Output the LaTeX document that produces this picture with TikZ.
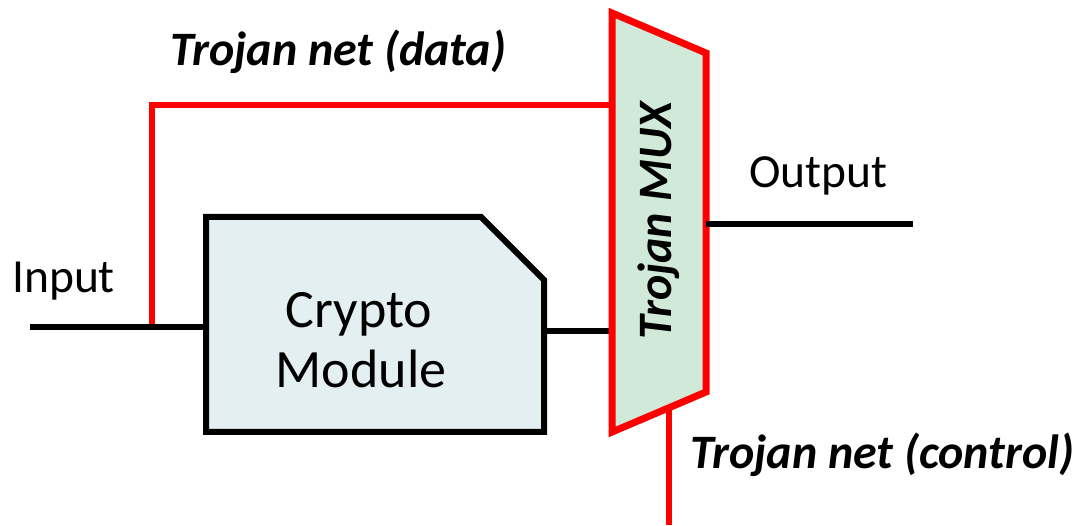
\documentclass[tikz,border=0pt]{standalone}
\usepackage{fontspec}
\setmainfont{Carlito}
\definecolor{boxfill}{HTML}{E4EFF1}
\definecolor{muxfill}{HTML}{D0E9D8}
\definecolor{trojred}{HTML}{FF0000}
\begin{document}
\begin{tikzpicture}[x=1pt,y=-1pt,
  wire/.style={line width=6pt,black},
  redwire/.style={line width=6pt,trojred},
  lbl/.style={inner sep=0pt,font=\fontsize{47.5}{56}\selectfont},
  tlbl/.style={inner sep=0pt,font=\fontsize{48}{56}\selectfont\bfseries\itshape},
  modbox/.style={line width=6pt,black,fill=boxfill,line join=miter},
  muxshape/.style={line width=7pt,trojred,fill=muxfill,line join=miter}]
\useasboundingbox (0,0) rectangle (1082,526);
% coordinates
\coordinate (in) at (30,327);
\coordinate (btl) at (206,217);
\coordinate (bcut1) at (481,217);
\coordinate (bcut2) at (544,280);
\coordinate (bbr) at (544,432);
\coordinate (bbl) at (206,432);
\coordinate (bin) at (206,327);
\coordinate (bout) at (544,331);
\coordinate (mtl) at (612,13);
\coordinate (mtr) at (706,53);
\coordinate (mbr) at (706,392);
\coordinate (mbl) at (612,432);
\coordinate (mdata) at (612,105);
\coordinate (min) at (612,331);
\coordinate (mout) at (706,224);
\coordinate (out) at (913,224);
\coordinate (mctl) at (669,408);
\coordinate (ctl) at (669,525);
\coordinate (tap) at (152,326);
\coordinate (corner) at (152,105);
% red data net
\draw[redwire] (tap) -- (corner) -- (mdata);
% input wire
\draw[wire] (in) -- (bin);
% crypto module
\draw[modbox] (btl) -- (bcut1) -- (bcut2) -- (bbr) -- (bbl) -- cycle;
\node[lbl,anchor=base] (crypto) at (359,328) {\fontsize{54}{61}\selectfont Crypto};
\node[lbl,anchor=base] (module) at (361,388) {\fontsize{54}{61}\selectfont Module};
% module to mux
\draw[wire] (bout) -- (min);
% control net
\draw[redwire] (mctl) -- (ctl);
% mux
\draw[muxshape] (mtl) -- (mtr) -- (mbr) -- (mbl) -- cycle;
\node[tlbl,rotate=90,font=\fontsize{48}{56}\selectfont\bfseries\itshape] (muxlbl) at (659,221) {Trojan MUX};
% output
\draw[wire] (mout) -- (out);
% labels
\node[lbl,anchor=base west] (inlbl) at (12,293) {Input};
\node[lbl,anchor=base west] (outlbl) at (749,188) {Output};
\node[tlbl,anchor=base west] (datalbl) at (170,66) {Trojan net (data)};
\node[tlbl,anchor=base west] (ctllbl) at (690,468) {Trojan net (control)};
\end{tikzpicture}
\end{document}
